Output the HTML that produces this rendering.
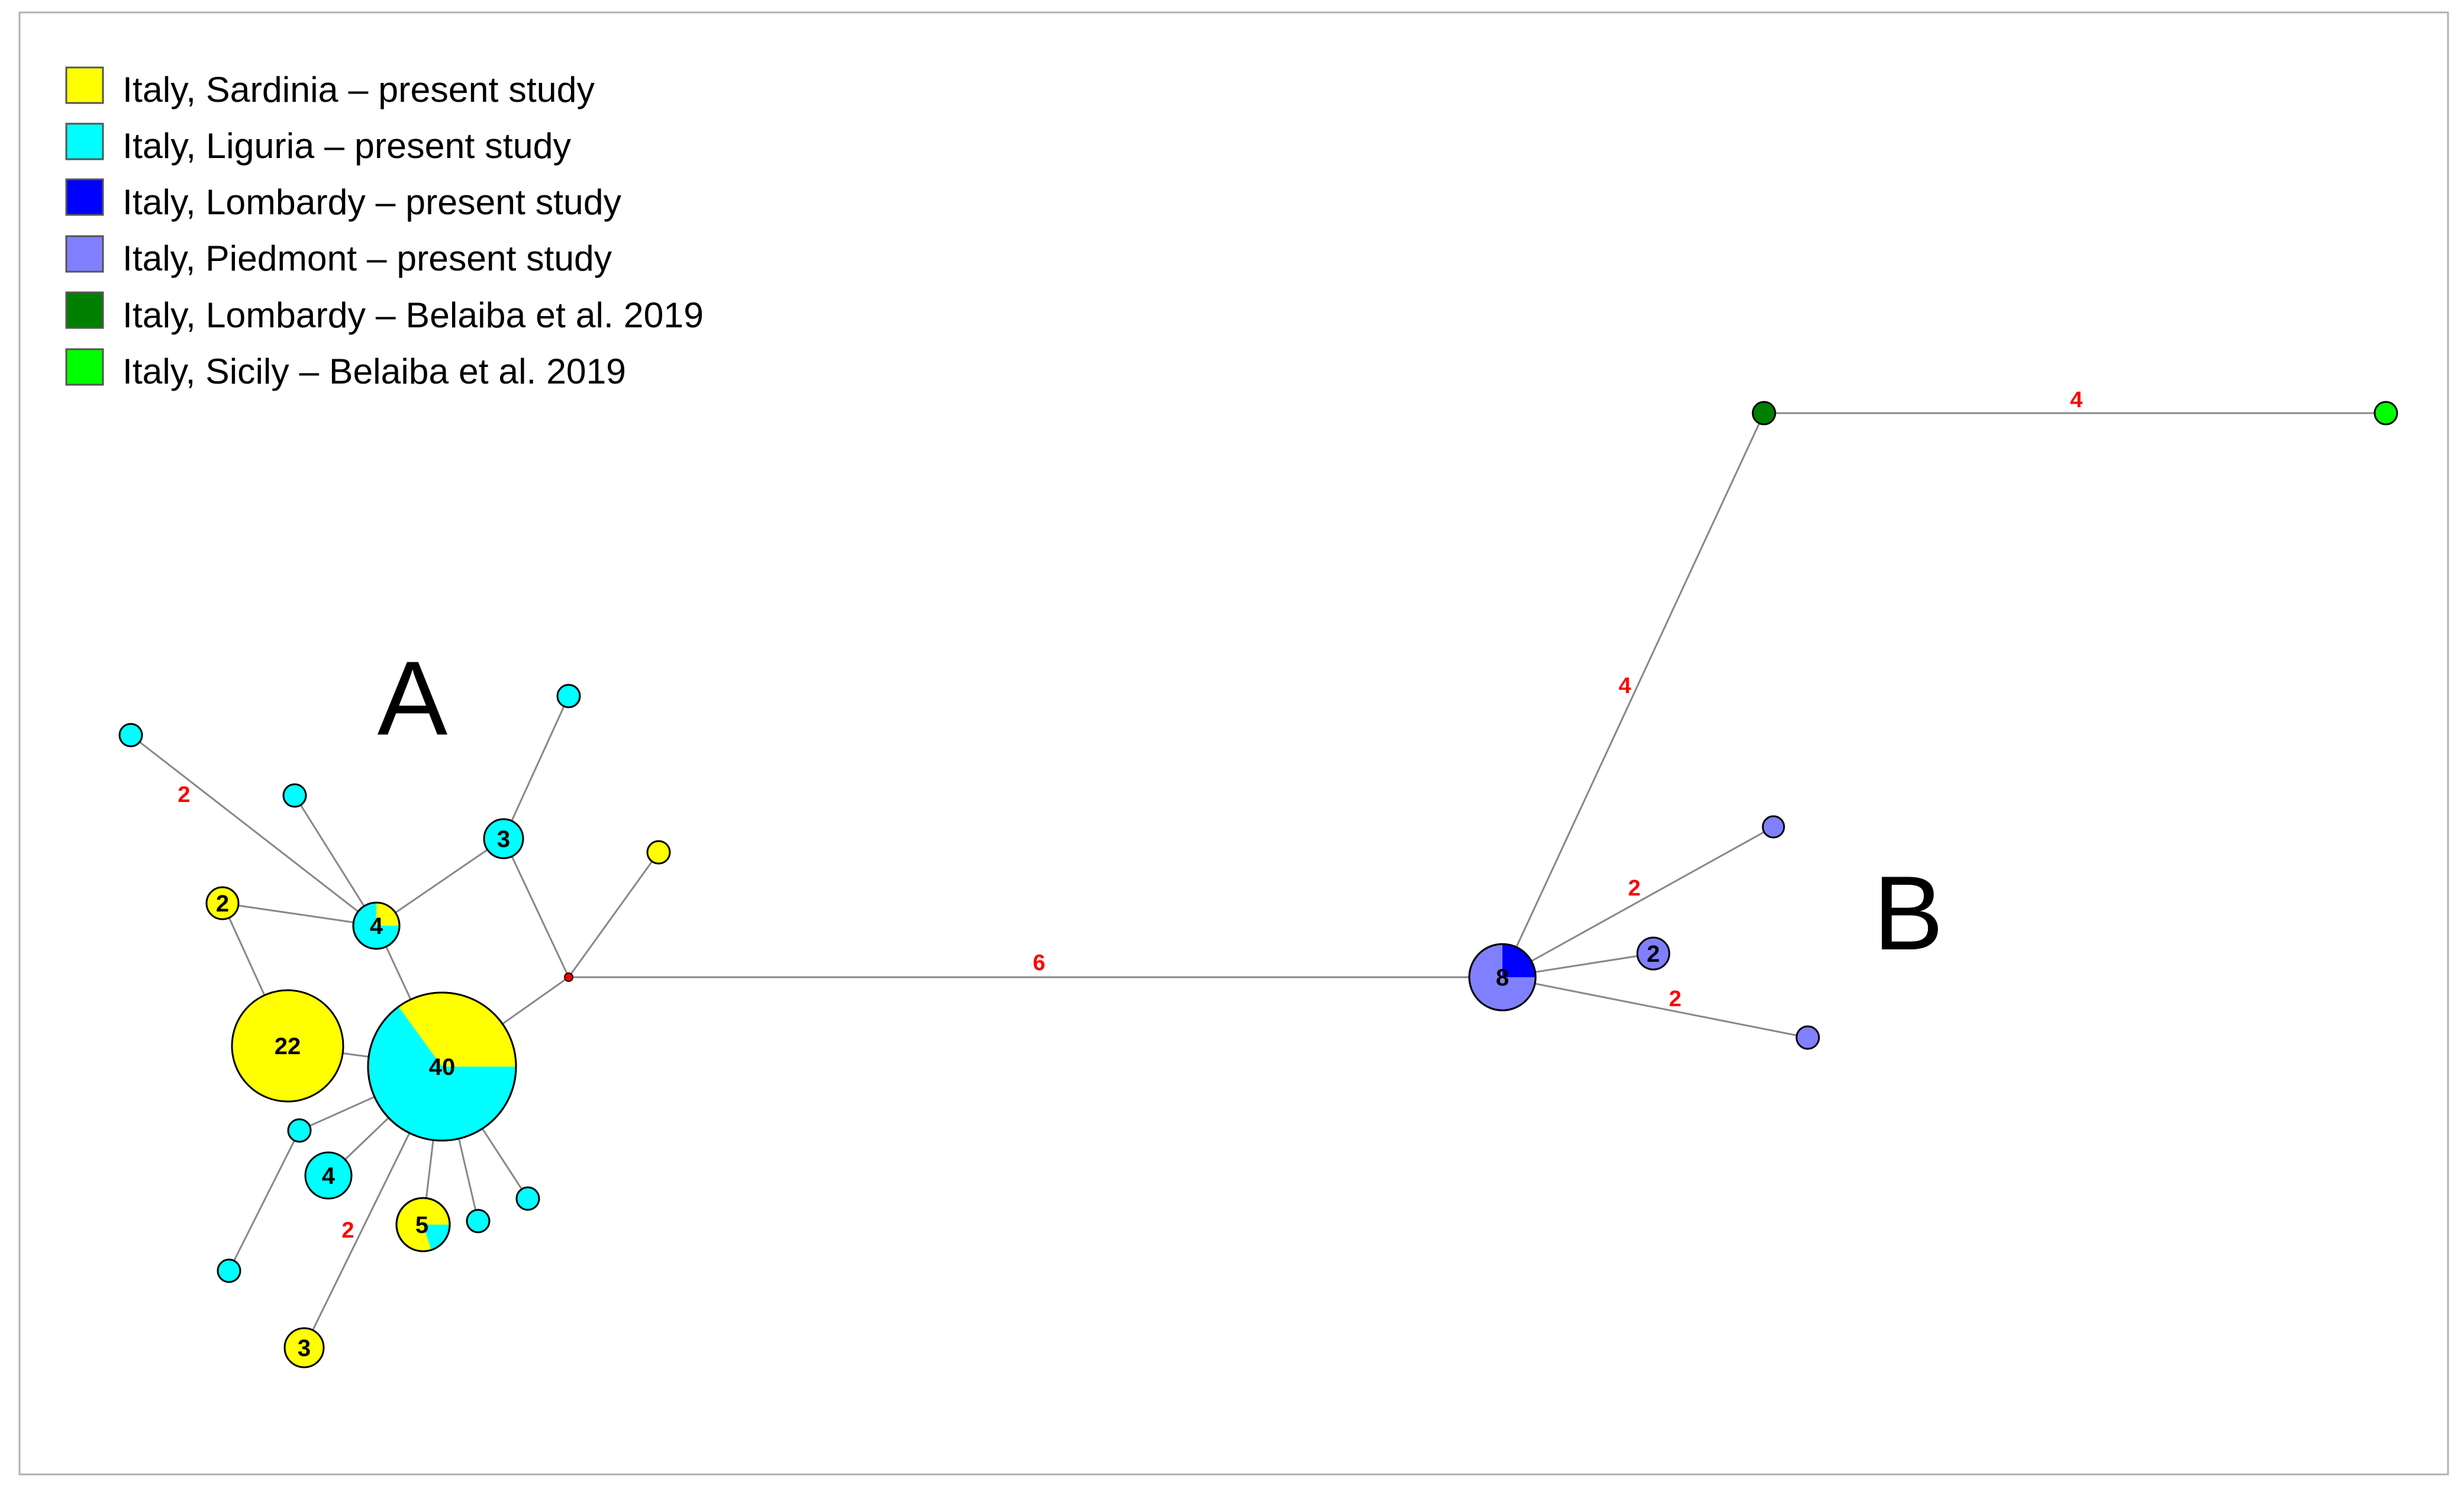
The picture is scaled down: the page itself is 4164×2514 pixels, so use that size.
<!DOCTYPE html>
<html><head><meta charset="utf-8"><style>
html,body{margin:0;padding:0;background:#fff;}
svg{display:block;}
</style></head><body>
<svg width="4164" height="2514" viewBox="0 0 4164 2514" xmlns="http://www.w3.org/2000/svg">
<rect x="0" y="0" width="4164" height="2514" fill="#fff"/>
<rect x="33" y="21" width="4104" height="2470" fill="none" stroke="#b0b0b0" stroke-width="3"/>
<g stroke="#555" stroke-width="3">
<rect x="112" y="114" width="62" height="60" fill="#ffff00"/>
<rect x="112" y="209" width="62" height="60" fill="#00ffff"/>
<rect x="112" y="303" width="62" height="60" fill="#0000ff"/>
<rect x="112" y="399" width="62" height="60" fill="#8080ff"/>
<rect x="112" y="494" width="62" height="60" fill="#008000"/>
<rect x="112" y="590" width="62" height="60" fill="#00ff00"/>
</g>
<g font-family="'Liberation Sans', sans-serif" font-size="60" fill="#000">
<text x="207" y="172" textLength="798" lengthAdjust="spacingAndGlyphs">Italy, Sardinia – present study</text>
<text x="207" y="267" textLength="758" lengthAdjust="spacingAndGlyphs">Italy, Liguria – present study</text>
<text x="207" y="362" textLength="843" lengthAdjust="spacingAndGlyphs">Italy, Lombardy – present study</text>
<text x="207" y="457" textLength="827" lengthAdjust="spacingAndGlyphs">Italy, Piedmont – present study</text>
<text x="207" y="553" textLength="982" lengthAdjust="spacingAndGlyphs">Italy, Lombardy – Belaiba et al. 2019</text>
<text x="207" y="648" textLength="851" lengthAdjust="spacingAndGlyphs">Italy, Sicily – Belaiba et al. 2019</text>
</g>
<g stroke="#888" stroke-width="3" fill="none">
<line x1="221" y1="1242" x2="636" y2="1564"/>
<line x1="498" y1="1344" x2="636" y2="1564"/>
<line x1="376" y1="1526" x2="636" y2="1564"/>
<line x1="636" y1="1564" x2="851" y2="1417"/>
<line x1="851" y1="1417" x2="961" y2="1176"/>
<line x1="851" y1="1417" x2="961" y2="1651"/>
<line x1="961" y1="1651" x2="1113" y2="1440"/>
<line x1="961" y1="1651" x2="747" y2="1802"/>
<line x1="961" y1="1651" x2="2539" y2="1651"/>
<line x1="636" y1="1564" x2="747" y2="1802"/>
<line x1="376" y1="1526" x2="486" y2="1767"/>
<line x1="486" y1="1767" x2="747" y2="1802"/>
<line x1="747" y1="1802" x2="506" y2="1910"/>
<line x1="506" y1="1910" x2="387" y2="2147"/>
<line x1="747" y1="1802" x2="555" y2="1986"/>
<line x1="747" y1="1802" x2="514" y2="2277"/>
<line x1="747" y1="1802" x2="715" y2="2069"/>
<line x1="747" y1="1802" x2="808" y2="2063"/>
<line x1="747" y1="1802" x2="892" y2="2025"/>
<line x1="2539" y1="1651" x2="2981" y2="698"/>
<line x1="2981" y1="698" x2="4032" y2="698"/>
<line x1="2539" y1="1651" x2="2997" y2="1397"/>
<line x1="2539" y1="1651" x2="2794" y2="1611"/>
<line x1="2539" y1="1651" x2="3055" y2="1753"/>
</g>
<g stroke="#000" stroke-width="3">
<circle cx="221" cy="1242" r="19" fill="#00ffff"/>
<circle cx="498" cy="1344" r="19" fill="#00ffff"/>
<circle cx="961" cy="1176" r="19" fill="#00ffff"/>
<circle cx="851" cy="1417" r="33" fill="#00ffff"/>
<circle cx="636" cy="1564" r="39" fill="#00ffff"/>
<path d="M636 1564 L636 1525 A39 39 0 0 1 675 1564 Z" fill="#ffff00" stroke="none"/>
<circle cx="636" cy="1564" r="39" fill="none"/>
<circle cx="376" cy="1526" r="27" fill="#ffff00"/>
<circle cx="1113" cy="1440" r="19" fill="#ffff00"/>
<circle cx="961" cy="1651" r="7" fill="#ff0000" stroke-width="2"/>
<circle cx="486" cy="1767" r="94" fill="#ffff00"/>
<circle cx="747" cy="1802" r="125" fill="#00ffff"/>
<path d="M747 1802 L673.5 1700.9 A125 125 0 0 1 872 1802 Z" fill="#ffff00" stroke="none"/>
<circle cx="747" cy="1802" r="125" fill="none"/>
<circle cx="506" cy="1910" r="19" fill="#00ffff"/>
<circle cx="555" cy="1986" r="39" fill="#00ffff"/>
<circle cx="387" cy="2147" r="19" fill="#00ffff"/>
<circle cx="514" cy="2277" r="33" fill="#ffff00"/>
<circle cx="715" cy="2069" r="45" fill="#ffff00"/>
<path d="M715 2069 L760 2069 A45 45 0 0 1 728.9 2111.8 Z" fill="#00ffff" stroke="none"/>
<circle cx="715" cy="2069" r="45" fill="none"/>
<circle cx="808" cy="2063" r="19" fill="#00ffff"/>
<circle cx="892" cy="2025" r="19" fill="#00ffff"/>
<circle cx="2981" cy="698" r="19" fill="#008000"/>
<circle cx="4032" cy="698" r="19" fill="#00ff00"/>
<circle cx="2539" cy="1651" r="56" fill="#8080ff"/>
<path d="M2539 1651 L2539 1595 A56 56 0 0 1 2595 1651 Z" fill="#0000ff" stroke="none"/>
<circle cx="2539" cy="1651" r="56" fill="none"/>
<circle cx="2997" cy="1397" r="18" fill="#8080ff"/>
<circle cx="2794" cy="1611" r="27" fill="#8080ff"/>
<circle cx="3055" cy="1753" r="19" fill="#8080ff"/>
</g>
<g font-family="'Liberation Sans', sans-serif" font-weight="bold" font-size="40" fill="#000" text-anchor="middle">
<text x="747" y="1816">40</text>
<text x="486" y="1781">22</text>
<text x="636" y="1578">4</text>
<text x="851" y="1431">3</text>
<text x="376" y="1540">2</text>
<text x="555" y="2000">4</text>
<text x="514" y="2291">3</text>
<text x="713" y="2083">5</text>
<text x="2539" y="1665">8</text>
<text x="2794" y="1625">2</text>
</g>
<g font-family="'Liberation Sans', sans-serif" font-weight="bold" font-size="38" fill="#ff0000" text-anchor="middle">
<text x="311" y="1355">2</text>
<text x="588" y="2091">2</text>
<text x="1756" y="1639">6</text>
<text x="3509" y="688">4</text>
<text x="2746" y="1171">4</text>
<text x="2762" y="1513">2</text>
<text x="2831" y="1700">2</text>
</g>
<g font-family="'Liberation Sans', sans-serif" font-size="178" fill="#000" text-anchor="middle">
<text x="697" y="1241">A</text>
<text x="3225" y="1604">B</text>
</g>
</svg>
</body></html>
